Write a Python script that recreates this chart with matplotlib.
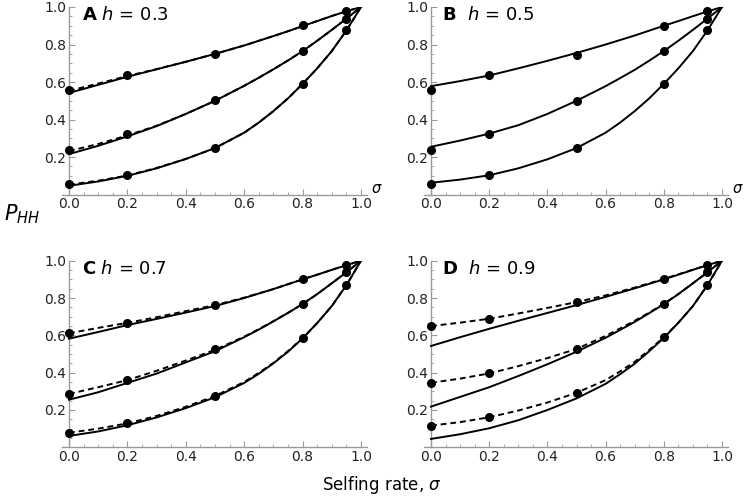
import numpy as np
import matplotlib
matplotlib.use("Agg")
import matplotlib.pyplot as plt
from matplotlib.ticker import MultipleLocator, FixedLocator

# ---------------- data ----------------
sigma_pts = [0.0, 0.2, 0.5, 0.8, 0.95]
sigma_curve = [0.0, 0.1, 0.2, 0.3, 0.4, 0.5, 0.6, 0.65, 0.7, 0.75, 0.8, 0.85, 0.9, 0.95, 1.0]

panel_letters = ["A", "B", "C", "D"]
h_values = ["0.3", "0.5", "0.7", "0.9"]

# simulated points (top, middle, bottom curve)
A_pts_top = [0.556, 0.638, 0.751, 0.902, 0.978]
A_pts_mid = [0.237, 0.322, 0.503, 0.765, 0.938]
A_pts_bot = [0.056, 0.106, 0.250, 0.592, 0.879]
B_pts_top = [0.556, 0.638, 0.746, 0.900, 0.978]
B_pts_mid = [0.237, 0.322, 0.500, 0.765, 0.938]
B_pts_bot = [0.056, 0.104, 0.246, 0.590, 0.879]
C_pts_top = [0.611, 0.667, 0.762, 0.900, 0.976]
C_pts_mid = [0.286, 0.360, 0.525, 0.769, 0.939]
C_pts_bot = [0.078, 0.128, 0.275, 0.584, 0.869]
D_pts_top = [0.650, 0.689, 0.780, 0.903, 0.976]
D_pts_mid = [0.346, 0.396, 0.527, 0.769, 0.939]
D_pts_bot = [0.116, 0.161, 0.292, 0.589, 0.869]

# solid curves
A_sol_top = [0.542, 0.585, 0.628, 0.668, 0.708, 0.750, 0.795, 0.820, 0.845, 0.871, 0.898, 0.925, 0.952, 0.977, 1.0]
A_sol_mid = [0.216, 0.260, 0.310, 0.365, 0.430, 0.500, 0.580, 0.623, 0.668, 0.715, 0.765, 0.820, 0.878, 0.938, 1.0]
A_sol_bot = [0.047, 0.070, 0.100, 0.140, 0.190, 0.248, 0.330, 0.384, 0.445, 0.513, 0.590, 0.673, 0.765, 0.875, 1.0]
B_sol_top = [0.578, 0.605, 0.635, 0.673, 0.713, 0.755, 0.800, 0.824, 0.848, 0.874, 0.900, 0.925, 0.951, 0.976, 1.0]
B_sol_mid = [0.255, 0.288, 0.325, 0.370, 0.430, 0.500, 0.578, 0.621, 0.665, 0.714, 0.765, 0.820, 0.878, 0.938, 1.0]
B_sol_bot = [0.063, 0.080, 0.103, 0.140, 0.188, 0.248, 0.330, 0.384, 0.445, 0.513, 0.590, 0.673, 0.765, 0.875, 1.0]
C_sol_top = [0.582, 0.618, 0.655, 0.688, 0.722, 0.757, 0.800, 0.824, 0.848, 0.874, 0.900, 0.925, 0.951, 0.976, 1.0]
C_sol_mid = [0.255, 0.295, 0.345, 0.395, 0.455, 0.515, 0.590, 0.631, 0.675, 0.720, 0.768, 0.821, 0.879, 0.938, 1.0]
C_sol_bot = [0.061, 0.085, 0.118, 0.160, 0.210, 0.268, 0.345, 0.394, 0.450, 0.512, 0.584, 0.666, 0.757, 0.869, 1.0]
D_sol_top = [0.543, 0.590, 0.635, 0.678, 0.720, 0.762, 0.806, 0.829, 0.852, 0.876, 0.900, 0.925, 0.951, 0.976, 1.0]
D_sol_mid = [0.218, 0.270, 0.322, 0.382, 0.445, 0.512, 0.587, 0.629, 0.672, 0.719, 0.767, 0.821, 0.879, 0.938, 1.0]
D_sol_bot = [0.045, 0.070, 0.102, 0.145, 0.200, 0.262, 0.340, 0.392, 0.448, 0.515, 0.586, 0.667, 0.757, 0.869, 1.0]

# dashed curves
A_das_top = [0.553, 0.592, 0.632, 0.669, 0.708, 0.750, 0.795, 0.820, 0.845, 0.871, 0.898, 0.925, 0.952, 0.977, 1.0]
A_das_mid = [0.232, 0.270, 0.315, 0.367, 0.430, 0.500, 0.580, 0.623, 0.668, 0.715, 0.765, 0.820, 0.878, 0.938, 1.0]
A_das_bot = [0.053, 0.074, 0.102, 0.142, 0.190, 0.248, 0.330, 0.384, 0.445, 0.513, 0.590, 0.673, 0.765, 0.875, 1.0]
C_das_top = [0.611, 0.640, 0.667, 0.697, 0.730, 0.762, 0.802, 0.825, 0.848, 0.874, 0.900, 0.925, 0.951, 0.976, 1.0]
C_das_mid = [0.286, 0.322, 0.360, 0.410, 0.465, 0.522, 0.593, 0.633, 0.676, 0.721, 0.768, 0.821, 0.879, 0.938, 1.0]
C_das_bot = [0.078, 0.100, 0.128, 0.168, 0.217, 0.275, 0.350, 0.399, 0.452, 0.516, 0.584, 0.666, 0.757, 0.869, 1.0]
D_das_top = [0.650, 0.668, 0.689, 0.717, 0.747, 0.778, 0.814, 0.835, 0.856, 0.879, 0.902, 0.927, 0.952, 0.976, 1.0]
D_das_mid = [0.346, 0.368, 0.396, 0.435, 0.478, 0.527, 0.597, 0.637, 0.678, 0.722, 0.769, 0.821, 0.879, 0.938, 1.0]
D_das_bot = [0.116, 0.135, 0.161, 0.197, 0.240, 0.292, 0.360, 0.407, 0.458, 0.522, 0.589, 0.668, 0.757, 0.869, 1.0]

points = {
    "A": [A_pts_top, A_pts_mid, A_pts_bot],
    "B": [B_pts_top, B_pts_mid, B_pts_bot],
    "C": [C_pts_top, C_pts_mid, C_pts_bot],
    "D": [D_pts_top, D_pts_mid, D_pts_bot],
}
solid = {
    "A": [A_sol_top, A_sol_mid, A_sol_bot],
    "B": [B_sol_top, B_sol_mid, B_sol_bot],
    "C": [C_sol_top, C_sol_mid, C_sol_bot],
    "D": [D_sol_top, D_sol_mid, D_sol_bot],
}
dashed = {
    "A": [A_das_top, A_das_mid, A_das_bot],
    "B": [],
    "C": [C_das_top, C_das_mid, C_das_bot],
    "D": [D_das_top, D_das_mid, D_das_bot],
}

x_ticks = [0.0, 0.2, 0.4, 0.6, 0.8, 1.0]
y_ticks = [0.2, 0.4, 0.6, 0.8, 1.0]

# ---------------- figure ----------------
W, H = 747, 498
fig = plt.figure(figsize=(W / 100, H / 100), dpi=100)

# axes geometry in pixels: (x of sigma=0, x of sigma=1, y px of 0, y px of 1)
geom = {
    "A": (69, 361, 194.6, 7.0),
    "B": (431, 722, 194.6, 7.0),
    "C": (69, 361, 447.3, 260.7),
    "D": (431, 722, 447.3, 260.7),
}
xlo, xhi = -0.025, 1.02
ylo, yhi = 0.0, 1.0
axis_col = "#9a9a9a"

for letter, hval in zip(panel_letters, h_values):
    x0, x1, y0, y1 = geom[letter]
    ppu_x = x1 - x0
    ppu_y = y0 - y1
    left = x0 + xlo * ppu_x
    right = x0 + xhi * ppu_x
    bottom = y0 - ylo * ppu_y
    top = y0 - yhi * ppu_y
    ax = fig.add_axes([left / W, 1 - bottom / H, (right - left) / W, (bottom - top) / H])
    ax.set_xlim(xlo, xhi)
    ax.set_ylim(ylo, yhi)
    ax.patch.set_alpha(0)
    for s in ["top", "right"]:
        ax.spines[s].set_visible(False)
    ax.spines["left"].set_position(("data", 0))
    ax.spines["bottom"].set_position(("data", 0))
    for s in ["left", "bottom"]:
        ax.spines[s].set_color(axis_col)
        ax.spines[s].set_linewidth(1.0)
    ax.xaxis.set_major_locator(FixedLocator(x_ticks))
    ax.yaxis.set_major_locator(FixedLocator(y_ticks))
    ax.xaxis.set_minor_locator(MultipleLocator(0.05))
    ax.yaxis.set_minor_locator(MultipleLocator(0.05))
    ax.set_xticklabels([f"{v:.1f}" for v in x_ticks])
    ax.set_yticklabels([f"{v:.1f}" for v in y_ticks])
    ax.tick_params(which="major", direction="in", length=4, width=0.8, color=axis_col,
                   labelsize=10, labelcolor="#222222", pad=2)
    ax.tick_params(which="minor", direction="in", length=2, width=0.6, color=axis_col)

    for curve in solid[letter]:
        ax.plot(sigma_curve, curve, color="black", lw=1.4, solid_joinstyle="round", zorder=3)
    for curve in dashed[letter]:
        ax.plot(sigma_curve, curve, color="black", lw=1.4, ls=(0, (3, 2)), zorder=3)
    for pts in points[letter]:
        ax.plot(sigma_pts, pts, ls="none", marker="o", ms=5.5, color="black", zorder=4,
                clip_on=False)

    gap = "  " if letter in ("B", "D") else " "
    tx = 0.045 if letter in ("A", "C") else 0.037
    ax.text(tx, 0.955, r"$\mathbf{" + letter + r"}$" + gap + r"$h$ = " + hval,
            fontsize=13, va="center", ha="left", transform=ax.transData)
    if letter in ("A", "B"):
        ax.text(1.035, 0.03, r"$\sigma$", fontsize=10.5, ha="left", va="center",
                transform=ax.transData, clip_on=False)

fig.text(22 / W, 1 - 214 / H, r"$P_{HH}$", fontsize=15, ha="center", va="center")
fig.text(382 / W, 1 - 485 / H, r"Selfing rate, $\sigma$", fontsize=12, ha="center", va="center")

fig.savefig("out.png", dpi=100)
